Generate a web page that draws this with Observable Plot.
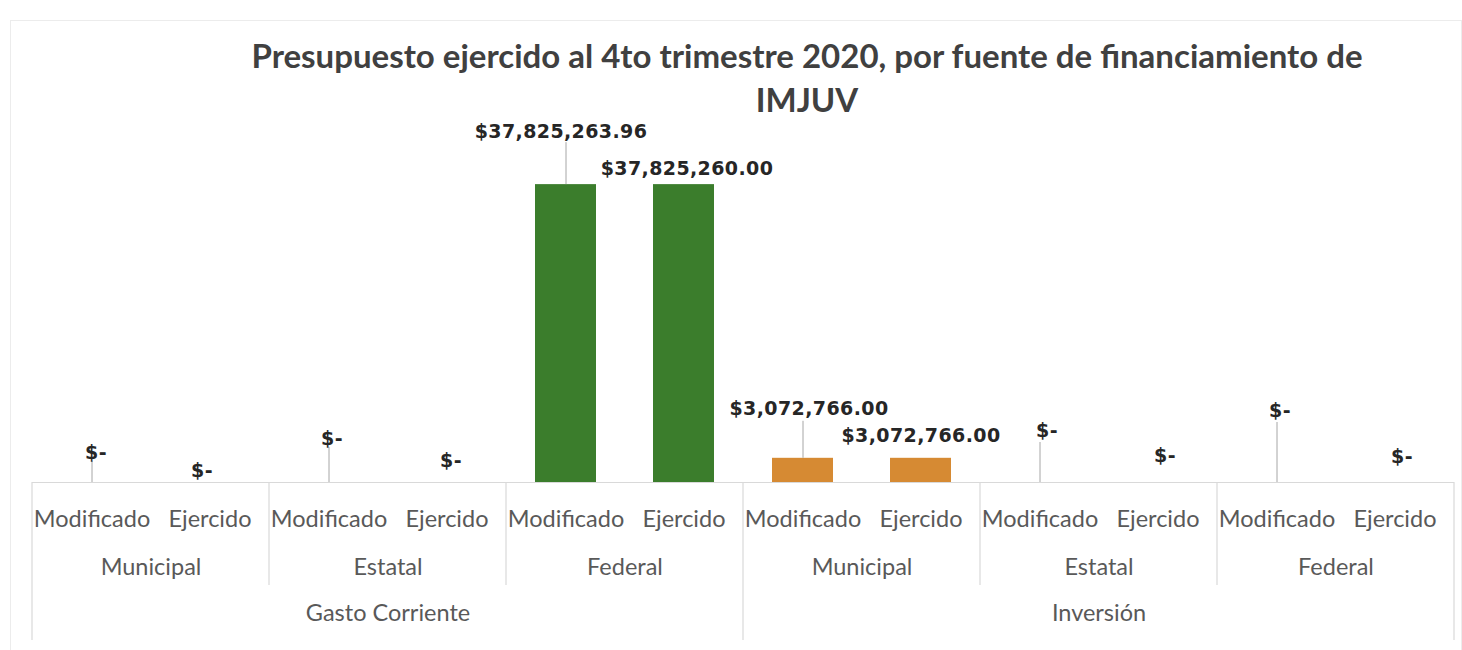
<!DOCTYPE html>
<html><head><meta charset="utf-8">
<script src="https://cdn.jsdelivr.net/npm/d3@7"></script>
<script src="https://cdn.jsdelivr.net/npm/@observablehq/plot@0.6"></script>
<style>
body{margin:0;background:#fff;width:1462px;height:650px;overflow:hidden;font-family:Lato,sans-serif;position:relative}
#title{height:115px;box-sizing:border-box;padding-top:33px;padding-left:152px;text-align:center;font-weight:bold;font-size:33px;line-height:44px;color:#404040}
#border{position:absolute;left:10px;top:20px;width:1450px;height:640px;border:1px solid #ececec;pointer-events:none}
</style></head><body>
<div id="border"></div>
<div id="title">Presupuesto ejercido al 4to trimestre 2020, por fuente de financiamiento de<br>IMJUV</div>
<div id="chart"></div>
<script>
// ---- data ----
const tipos = ["Gasto Corriente", "Inversión"];
const fuentes = ["Municipal", "Estatal", "Federal"];
const momentos = ["Modificado", "Ejercido"];
// order: tipo -> fuente -> momento
const valores = [0, 0, 0, 0, 37825263.96, 37825260.00, 3072766.00, 3072766.00, 0, 0, 0, 0];
const etiquetas = ["$-", "$-", "$-", "$-", "$37,825,263.96", "$37,825,260.00", "$3,072,766.00", "$3,072,766.00", "$-", "$-", "$-", "$-"];
const coloresFuente = ["#d68a33", "#8c8c8c", "#3b7d2c"];

// ---- layout constants for manually placed labels (dx, dy in px) and leader lengths ----
const labelOffsets = [[4,-30],[-8,-12],[3,-44],[4,-22],[-5,-53],[3,-16],[6,-49],[0,-22],[7,-52],[7,-27],[3,-72],[7,-26]];
const leaderLen = [21,0,35,0,42,0,37,0,40,0,60,0];

const rows = [];
let i = 0;
for (const t of tipos) for (const f of fuentes) for (const m of momentos) {
  rows.push({tipo: t, fuente: f, momento: m, group: t + "|" + f, valor: valores[i], etiqueta: etiquetas[i], idx: i});
  i++;
}
const groups = [];
for (const t of tipos) for (const f of fuentes) groups.push(t + "|" + f);

const labelFont = "'DejaVu Sans', sans-serif";
const axisFont = "Lato, sans-serif";
const marks = [
  Plot.barY(rows, {fx: "group", x: "momento", y: "valor", fill: "fuente"}),
  Plot.ruleY([0], {stroke: "#d9d9d9", strokeWidth: 1.2}),
  Plot.axisX({tickSize: 0, tickPadding: 28, fontSize: 23.5, fontFamily: axisFont, fill: "#595959", label: null}),
  Plot.axisFx({anchor: "bottom", tickSize: 0, tickPadding: 76, fontSize: 23.5, fontFamily: axisFont, fill: "#595959", label: null, tickFormat: d => d.split("|")[1]}),
  Plot.text(tipos, {fx: t => t + "|Estatal", text: d => d, frameAnchor: "bottom", dy: 138, fontSize: 23.5, fontFamily: axisFont, fill: "#595959"})
];
rows.forEach((d, k) => {
  if (leaderLen[k] > 0) {
    marks.push(Plot.ruleX([d], {fx: "group", x: "momento", y1: "valor", y2: "valor", insetTop: -leaderLen[k], stroke: "#a6a6a6", strokeWidth: 1}));
  }
  marks.push(Plot.text([d], {fx: "group", x: "momento", y: "valor", text: "etiqueta", dx: labelOffsets[k][0], dy: labelOffsets[k][1],
    fontSize: 19, fontWeight: "bold", fontFamily: labelFont, fill: "#262626"}));
});

const chart = Plot.plot({
  width: 1462,
  height: 535,
  marginLeft: 30,
  marginRight: 7,
  marginTop: 52,
  marginBottom: 168,
  fx: {domain: groups, padding: 0},
  x: {domain: momentos, paddingInner: 0.48, paddingOuter: 0.24},
  y: {domain: [0, 40000000], axis: null},
  color: {domain: fuentes, range: coloresFuente},
  style: {background: "transparent"},
  marks
});
chart.querySelectorAll("text").forEach(t => { if (t.textContent.startsWith("$")) t.setAttribute("letter-spacing", "0.4"); });
document.getElementById("chart").appendChild(chart);

// category table dividers drawn from the plot's own scales
const fx = chart.scale("fx");
const y = chart.scale("y");
const y0 = y.apply(0);
const svg = d3.select(chart);
const gLines = svg.append("g").attr("stroke", "#d9d9d9").attr("stroke-width", 1.2);
groups.forEach((g, k) => {
  const x = fx.apply(g);
  gLines.append("line").attr("x1", x).attr("x2", x).attr("y1", y0).attr("y2", y0 + (k % 3 === 0 ? 158 : 103));
});
const xr = fx.apply(groups[groups.length - 1]) + fx.bandwidth;
gLines.append("line").attr("x1", xr).attr("x2", xr).attr("y1", y0).attr("y2", y0 + 158);
</script>
</body></html>
